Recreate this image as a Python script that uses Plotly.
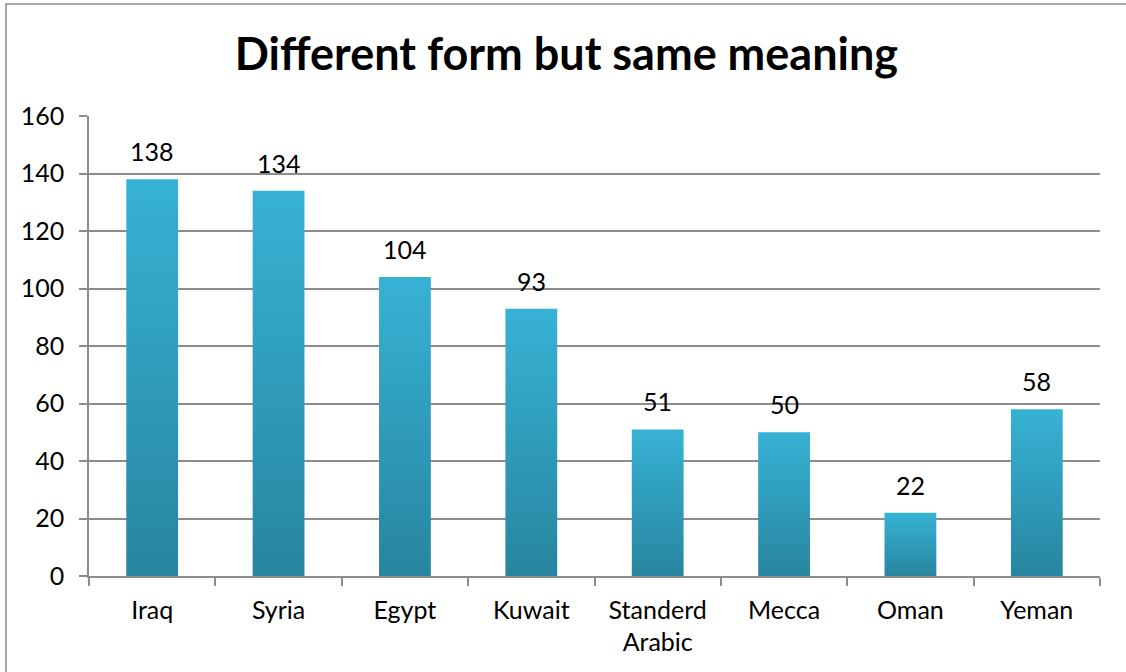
import plotly.graph_objects as go

# Counts of "different form but same meaning" items per dialect
categories = ["Iraq", "Syria", "Egypt", "Kuwait", "Standerd<br>Arabic", "Mecca", "Oman", "Yeman"]
values = [138, 134, 104, 93, 51, 50, 22, 58]
y_ticks = [0, 20, 40, 60, 80, 100, 120, 140, 160]

BAR_WIDTH = 0.41
BAR_DARK = "rgb(39,133,159)"
BAR_LIGHT = "rgb(55,178,213)"
GRID = "#8c8c8c"
FONT = "Lato"
LABEL_SIZE = 25

fig = go.Figure()

# each column is a filled polygon so it can carry a vertical gradient
for i, v in enumerate(values):
    x0, x1 = i - BAR_WIDTH / 2, i + BAR_WIDTH / 2
    fig.add_trace(go.Scatter(
        x=[x0, x1, x1, x0, x0],
        y=[0, 0, v, v, 0],
        mode="lines",
        line=dict(width=0),
        fill="toself",
        fillgradient=dict(type="vertical",
                          colorscale=[[0, BAR_DARK], [1, BAR_LIGHT]]),
        hoverinfo="skip",
        showlegend=False,
    ))
    fig.add_annotation(x=i, y=v, text=str(v), showarrow=False,
                       yanchor="bottom", yshift=11,
                       font=dict(family=FONT, size=LABEL_SIZE, color="black"))

fig.update_layout(
    width=1126, height=672,
    margin=dict(l=89, r=26, t=116, b=96),
    paper_bgcolor="white", plot_bgcolor="white",
    title=dict(text="<b>Different form but same meaning</b>",
               x=0.503, xanchor="center", y=0.92, yanchor="middle",
               font=dict(family=FONT, size=45, color="black")),
    xaxis=dict(
        range=[-0.5, len(categories) - 0.5],
        tickmode="array", tickvals=list(range(len(categories))),
        ticktext=categories, ticks="",
        showgrid=False, zeroline=False,
        showline=True, linecolor=GRID, linewidth=1.5,
        tickfont=dict(family=FONT, size=LABEL_SIZE, color="black"),
        ticklabelstandoff=11,
        minor=dict(tickmode="linear", tick0=-0.5, dtick=1,
                   ticks="outside", ticklen=8, tickcolor=GRID,
                   tickwidth=1.5, showgrid=False),
        fixedrange=True,
    ),
    yaxis=dict(
        range=[0, 160],
        tickmode="array", tickvals=y_ticks,
        ticks="outside", ticklen=8, tickcolor=GRID, tickwidth=1.5,
        showgrid=True, gridcolor=GRID, gridwidth=1.5,
        zeroline=False,
        showline=True, linecolor=GRID, linewidth=1.5,
        tickfont=dict(family=FONT, size=LABEL_SIZE, color="black"),
        ticklabelstandoff=10,
        fixedrange=True,
    ),
    shapes=[dict(type="rect", xref="paper", yref="paper",
                 x0=-0.0821, x1=1.05, y0=-0.3, y1=1.2435,
                 line=dict(color="#8a8a8a", width=1.5),
                 fillcolor="rgba(0,0,0,0)", layer="below")],
)

fig.write_html("out.html")
